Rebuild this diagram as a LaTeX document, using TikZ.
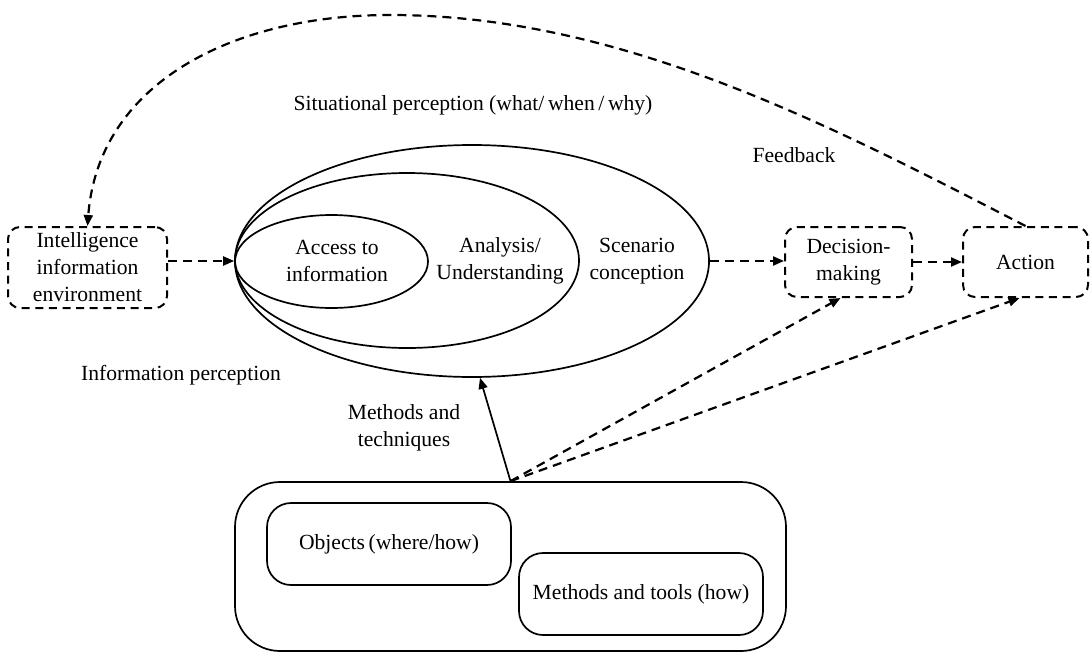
\documentclass[tikz,border=0pt]{standalone}
\usepackage{fontspec}
\setmainfont{Liberation Serif}
\usetikzlibrary{shapes.geometric,arrows.meta}

\begin{document}
\begin{tikzpicture}[x=0.5pt, y=-0.5pt,
    every node/.style={font=\fontsize{10.8}{13.5}\selectfont, align=center},
    ring/.style={ellipse, draw, line width=0.85pt, inner sep=0pt},
    dashbox/.style={draw, dash pattern=on 4pt off 2.8pt, rounded corners=6pt, line width=1pt, minimum height=35pt, inner sep=1.5pt},
    softbox/.style={draw, rounded corners=12pt, line width=0.85pt, minimum width=122pt, minimum height=41pt},
    link/.style={dash pattern=on 4.5pt off 3pt, line width=1.1pt, -{Triangle[length=5.5pt,width=4.5pt]}}]

        \useasboundingbox (0,0) rectangle (1090,653);

        % Elipses
        \node[ring, minimum width=237pt, minimum height=116pt] (scen) at (472,261) {};
        \node[ring, minimum width=172pt, minimum height=87.5pt] (anal) at (407,260.5) {};
        \node[ring, minimum width=96.5pt, minimum height=46.5pt] (acc) at (331.5,261.5) {};
        \node (acctxt) at (337,261) {Access to\\information};
        \node (analtxt) at (500,261) {Analysis/\\Understanding};
        \node (scentxt) at (637,261) {Scenario\\conception};

        % Caixas
        \node[dashbox, minimum width=79.5pt, minimum height=40.5pt] (intel) at (87.5,267.5) {Intelligence\\information\\environment};
        \node[dashbox, minimum width=63.5pt] (decis) at (848.5,262) {Decision-\\making};
        \node[dashbox, minimum width=62.5pt] (action) at (1025.5,262) {Action};
        \node[draw, rounded corners=22.5pt, line width=0.85pt, minimum width=275.5pt, minimum height=84.5pt] (frame) at (510.5,566.5) {};
        \node[softbox] (objs) at (389,544) {Objects\,(where/how)};
        \node[softbox] (tools) at (641,594) {Methods and tools (how)};

        % Rótulos
        \node (situ) at (473,105) {Situational perception (what/\,when\,/\,why)};
        \node (feed) at (794,155) {Feedback};
        \node (infop) at (181,375) {Information perception};
        \node (meth) at (404,428) {Methods and\\techniques};

        % Setas
        \draw[link] (intel.east |- scen.west) -- (scen.west);
        \draw[link] (scen.east) -- (scen.east -| decis.west);
        \draw[link] (decis.east) -- (action.west);
        \draw[link] (frame.north) -- ([xshift=-4pt]decis.south);
        \draw[link] (frame.north) -- ([xshift=-3pt]action.south);
        \draw[line width=0.85pt, -{Triangle[length=5.5pt,width=4.5pt]}] (frame.north) -- ([xshift=4pt]scen.south);
        \draw[link] (action.north) .. controls (830,125) and (620,15) .. (390,15) .. controls (230,15) and (98,85) .. (intel.north);

    \end{tikzpicture}
\end{document}
